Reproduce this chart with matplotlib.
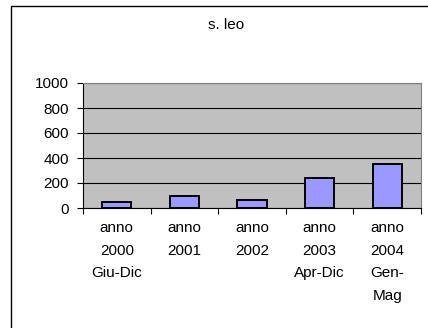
import matplotlib
matplotlib.use("Agg")
import matplotlib.pyplot as plt
from matplotlib.patches import Rectangle

# data
categories = ["anno\n2000\nGiu-Dic", "anno\n2001", "anno\n2002",
              "anno\n2003\nApr-Dic", "anno\n2004\nGen-\nMag"]
values = [48, 94, 62, 241, 351]
yticks = [0, 200, 400, 600, 800, 1000]

plt.rcParams["font.family"] = ["Liberation Sans", "DejaVu Sans"]
FS = 11

W, H = 428, 328
fig = plt.figure(figsize=(W / 100, H / 100), dpi=100)
fig.patch.set_facecolor("white")

# outer chart border (runs off the right and bottom edges)
fig.patches.append(Rectangle((11 / W, -0.05), 1.2, 1 - 6 / H + 0.05,
                             transform=fig.transFigure, fill=False,
                             edgecolor="black", linewidth=1.0))

ax = fig.add_axes([83 / W, 1 - 208 / H, (421 - 83) / W, (208 - 83) / H])
ax.set_facecolor("#C0C0C0")

x = range(len(values))
ax.bar(x, values, width=0.43, color="#9999FF", edgecolor="black",
       linewidth=1.4, zorder=3)

ax.set_ylim(0, 1000)
ax.set_xlim(-0.5, len(values) - 0.5)
ax.set_yticks(yticks)
ax.set_yticklabels([str(v) for v in yticks], fontsize=FS)
ax.yaxis.grid(True, color="black", linewidth=0.8, zorder=1)
ax.set_axisbelow(True)

# category ticks sit between the bars
ax.set_xticks([i - 0.5 for i in range(len(values) + 1)])
ax.set_xticklabels([])
ax.tick_params(axis="x", length=4, width=0.8, direction="out")
ax.tick_params(axis="y", length=4, width=0.8, direction="out", pad=6)
for i, lab in enumerate(categories):
    ax.text(i, -0.105, lab, transform=ax.get_xaxis_transform(),
            ha="center", va="top", fontsize=FS, linespacing=1.78)

for side in ["top", "right"]:
    ax.spines[side].set_color("#808080")
    ax.spines[side].set_linewidth(0.8)
for side in ["left", "bottom"]:
    ax.spines[side].set_color("black")
    ax.spines[side].set_linewidth(0.8)

fig.text(226 / W, 1 - 25 / H, "s. leo", ha="center", va="center", fontsize=FS)

fig.savefig("out.png", dpi=100)
